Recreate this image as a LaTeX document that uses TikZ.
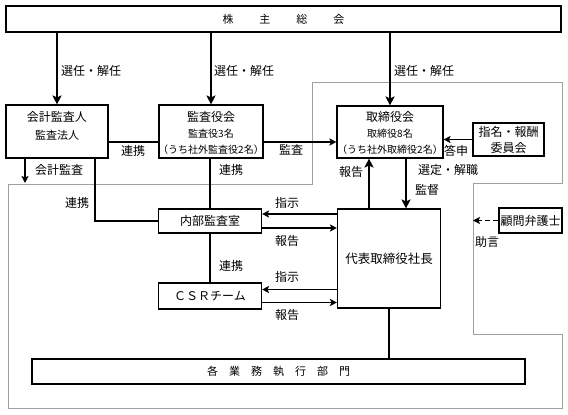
\documentclass[tikz,border=0pt]{standalone}
\usepackage{fontspec}
\setmainfont{Noto Sans CJK JP}
\usetikzlibrary{arrows.meta,calc}
\begin{document}
\begin{tikzpicture}[x=1pt,y=-1pt,
  box/.style={draw=black,line width=1.1pt,inner sep=0pt,fill=white},
  txt/.style={inner sep=0pt,font=\fontsize{12}{12}\selectfont},
  mtxt/.style={inner sep=0pt,font=\fontsize{11}{11}\selectfont},
  stxt/.style={inner sep=0pt,font=\fontsize{10}{10}\selectfont},
  big/.style={line width=2.2pt,-{Stealth[length=9pt,width=9pt,inset=2pt]}},
  mid/.style={line width=1.8pt,-{Stealth[length=7pt,width=7pt,inset=1.5pt]}},
  link/.style={line width=2pt,black},
  region/.style={draw=gray!75,line width=1pt}
]
\useasboundingbox[fill=white] (0,0) rectangle (568,415);

% gray region
\draw[region] (312,82) -- (562,82) -- (562,183) -- (473,183) -- (473,334)
  -- (562,334) -- (562,408) -- (8,408) -- (8,184) -- (312,184) -- cycle;

% boxes
\node[box,minimum width=555pt,minimum height=26pt] (soukai) at (283.5,19)
  {\fontsize{11}{11}\selectfont 株\hspace{26pt}主\hspace{26pt}総\hspace{26pt}会};
\node[box,minimum width=102pt,minimum height=53pt] (kaikei) at (57,131.5) {};
\node[box,minimum width=104pt,minimum height=53pt] (kansa) at (211,131.5) {};
\node[box,minimum width=106pt,minimum height=52pt] (tori) at (390,132) {};
\node[box,minimum width=71pt,minimum height=33pt] (shimei) at (508.5,139.5) {};
\node[box,minimum width=63pt,minimum height=25pt] (komon) at (530.5,220.5)
  {\fontsize{12}{12}\selectfont 顧問弁護士};
\node[box,minimum width=103pt,minimum height=24pt] (naibu) at (210,221)
  {\fontsize{12}{12}\selectfont 内部監査室};
\node[box,minimum width=103pt,minimum height=26pt] (csr) at (210,296)
  {\fontsize{12}{12}\selectfont ＣＳＲチーム};
\node[box,minimum width=103pt,minimum height=99pt] (dai) at (389,258.5)
  {\fontsize{12.5}{12.5}\selectfont 代表取締役社長};
\node[box,minimum width=493pt,minimum height=25pt] (kakugyo) at (278.5,371.5)
  {\fontsize{11}{11}\selectfont 各\hspace{11pt}業\hspace{11pt}務\hspace{11pt}執\hspace{11pt}行\hspace{11pt}部\hspace{11pt}門};

% box texts
\node[txt] (kaikeiA) at (57,117) {会計監査人};
\node[mtxt] (kaikeiB) at (57,135) {監査法人};
\node[txt] (kansaA) at (211,117) {監査役会};
\node[stxt] (kansaB) at (211,133.5) {監査役3名};
\node[stxt] (kansaC) at (211,150) {（うち社外監査役2名）};
\node[txt] (toriA) at (390,117) {取締役会};
\node[stxt] (toriB) at (390,133.5) {取締役8名};
\node[stxt] (toriC) at (390,150) {（うち社外取締役2名）};
\node[txt] (shimeiA) at (508.5,131.5) {指名・報酬};
\node[txt] (shimeiB) at (508.5,148) {委員会};

% shareholders arrows
\draw[big] (soukai.south -| kaikei) -- (kaikei.north);
\draw[big] (soukai.south -| kansa) -- (kansa.north);
\draw[big] (soukai.south -| tori) -- (tori.north);
\node[txt,anchor=west] (l1) at (61,71) {選任・解任};
\node[txt,anchor=west] (l2) at (214,71) {選任・解任};
\node[txt,anchor=west] (l3) at (394,71) {選任・解任};

% kaikei - kansa - tori
\coordinate (r1) at ([yshift=-10.5pt]kaikei.east);
\draw[link] (r1) -- (r1 -| kansa.west);
\draw[mid] (r1 -| kansa.east) -- (r1 -| tori.west);
\node[txt] (l4) at (133,151) {連携};
\node[txt] (l5) at (291,150) {監査};

% kaikei audit arrow
\coordinate (g1) at (25,183);
\draw[mid] (kaikei.south -| g1) -- (g1);
\node[txt] (l6) at (59,170) {会計監査};

% kaikei - naibu link
\coordinate (k2) at ([xshift=38pt]kaikei.south);
\draw[link] (k2) |- (naibu.west);
\node[txt] (l7) at (77,203) {連携};

% kansa - naibu - csr
\draw[link] (naibu.north |- kansa.south) -- (naibu.north);
\node[txt] (l8) at (231,170) {連携};
\draw[link] (naibu.south) -- (csr.north);
\node[txt] (l9) at (231,266) {連携};

% dai <-> naibu, csr
\coordinate (s1) at ([yshift=7pt]naibu.east);
\coordinate (s2) at ([yshift=-7pt]naibu.east);
\coordinate (s3) at ([yshift=6.5pt]csr.east);
\coordinate (s4) at ([yshift=-6.5pt]csr.east);
\draw[mid] (s1 -| dai.west) -- (s1);
\draw[mid] (s2) -- (s2 -| dai.west);
\draw[mid] (s3 -| dai.west) -- (s3);
\draw[mid] (s4) -- (s4 -| dai.west);
\node[txt] (l10) at (287,203) {指示};
\node[txt] (l11) at (287,241) {報告};
\node[txt] (l12) at (287,277) {指示};
\node[txt] (l13) at (287,315) {報告};

% tori <-> dai
\coordinate (t1) at ([xshift=-21pt]tori.south);
\coordinate (t2) at ([xshift=16pt]tori.south);
\draw[big] (t1 |- dai.north) -- (t1);
\draw[big] (t2) -- (t2 |- dai.north);
\node[txt] (l14) at (351,172) {報告};
\node[txt] (l15) at (448,170) {選定・解職};
\node[txt] (l16) at (427,190) {監督};

% shimei -> tori
\draw[mid] (shimei.west) -- (shimei.west -| tori.east);
\node[txt] (l17) at (456,151) {答申};

% dai -> kakugyo
\draw[link] (dai.south) -- (dai.south |- kakugyo.north);

% komon -> region
\coordinate (g2) at (473,221);
\draw[mid,dash pattern=on 5pt off 3pt] (komon.west) -- (komon.west -| g2);
\node[txt] (l18) at (487,242) {助言};
\end{tikzpicture}
\end{document}
